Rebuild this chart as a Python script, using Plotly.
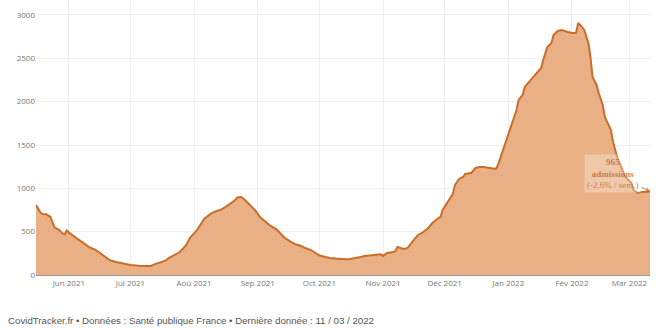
import plotly.graph_objects as go

dates = [
    "2021-05-16", "2021-05-18", "2021-05-19", "2021-05-21", "2021-05-23", "2021-05-24",
    "2021-05-25", "2021-05-27", "2021-05-29", "2021-05-30", "2021-05-31", "2021-06-01",
    "2021-06-03", "2021-06-05", "2021-06-08", "2021-06-11", "2021-06-14", "2021-06-16",
    "2021-06-19", "2021-06-21", "2021-06-24", "2021-06-27", "2021-07-01", "2021-07-06",
    "2021-07-11", "2021-07-13", "2021-07-15", "2021-07-18", "2021-07-20", "2021-07-23",
    "2021-07-25", "2021-07-28", "2021-07-30", "2021-08-02", "2021-08-04", "2021-08-06",
    "2021-08-09", "2021-08-11", "2021-08-14", "2021-08-16", "2021-08-19", "2021-08-21",
    "2021-08-22", "2021-08-24", "2021-08-26", "2021-08-28", "2021-08-31", "2021-09-02",
    "2021-09-05", "2021-09-07", "2021-09-10", "2021-09-12", "2021-09-14", "2021-09-17",
    "2021-09-19", "2021-09-22", "2021-09-24", "2021-09-27", "2021-09-29", "2021-10-01",
    "2021-10-04", "2021-10-06", "2021-10-09", "2021-10-11", "2021-10-14", "2021-10-16",
    "2021-10-19", "2021-10-21", "2021-10-23", "2021-10-26", "2021-10-28", "2021-10-31",
    "2021-11-01", "2021-11-03", "2021-11-06", "2021-11-07", "2021-11-08", "2021-11-09",
    "2021-11-11", "2021-11-13", "2021-11-14", "2021-11-16", "2021-11-18", "2021-11-20",
    "2021-11-23", "2021-11-25", "2021-11-28", "2021-11-29", "2021-11-30", "2021-12-03",
    "2021-12-05", "2021-12-06", "2021-12-08", "2021-12-10", "2021-12-11", "2021-12-14",
    "2021-12-16", "2021-12-18", "2021-12-20", "2021-12-23", "2021-12-26", "2021-12-27",
    "2021-12-29", "2021-12-31", "2022-01-01", "2022-01-03", "2022-01-05", "2022-01-06",
    "2022-01-08", "2022-01-09", "2022-01-12", "2022-01-14", "2022-01-17", "2022-01-18",
    "2022-01-20", "2022-01-22", "2022-01-23", "2022-01-25", "2022-01-27", "2022-01-30",
    "2022-02-01", "2022-02-03", "2022-02-04", "2022-02-05", "2022-02-07", "2022-02-09",
    "2022-02-10", "2022-02-11", "2022-02-13", "2022-02-14", "2022-02-16", "2022-02-17",
    "2022-02-19", "2022-02-20", "2022-02-21", "2022-02-23", "2022-02-25", "2022-02-27",
    "2022-03-02", "2022-03-03", "2022-03-05", "2022-03-07", "2022-03-09", "2022-03-11",
]

admissions = [
    808, 727, 705, 700, 670, 600,
    550, 525, 480, 470, 515, 490,
    450, 420, 370, 320, 290, 255,
    210, 170, 150, 135, 115, 105,
    105, 125, 140, 165, 200, 235,
    265, 340, 430, 505, 575, 650,
    705, 730, 755, 780, 830, 865,
    895, 900, 860, 810, 740, 670,
    615, 570, 530, 485, 430, 385,
    358, 335, 312, 288, 254, 225,
    208, 196, 190, 185, 183, 185,
    195, 208, 220, 230, 235, 240,
    220, 254, 265, 277, 323, 315,
    300, 312, 346, 404, 462, 485,
    542, 600, 658, 670, 750, 865,
    935, 1038, 1108, 1131, 1165, 1177,
    1235, 1246, 1246, 1235, 1223, 1270,
    1408, 1535, 1604, 1754, 1904, 2020,
    2077, 2170, 2250, 2308, 2389, 2481,
    2631, 2677, 2770, 2816, 2827, 2804,
    2793, 2793, 2908, 2885, 2827, 2677,
    2516, 2285, 2193, 2100, 1962, 1823,
    1731, 1673, 1535, 1362, 1246, 1131,
    1062, 981, 946, 958, 958, 965,
]

tick_dates = ["2021-06-01", "2021-07-01", "2021-08-01", "2021-09-01", "2021-10-01",
              "2021-11-01", "2021-12-01", "2022-01-01", "2022-02-01", "2022-03-01"]
tick_labels = ["Jun 2021", "Jul 2021", "Aoû 2021", "Sep 2021", "Oct 2021",
               "Nov 2021", "Déc 2021", "Jan 2022", "Fév 2022", "Mar 2022"]
y_ticks = [0, 500, 1000, 1500, 2000, 2500, 3000]

line_color = "rgb(200,110,40)"
fill_color = "rgb(233,176,134)"

fig = go.Figure()
fig.add_trace(go.Scatter(
    x=dates, y=admissions, mode="lines",
    line=dict(color=line_color, width=2),
    fill="tozeroy", fillcolor=fill_color,
    hoverinfo="skip", showlegend=False,
))

fig.add_annotation(
    x=dates[-1], y=admissions[-1], xref="x", yref="y",
    text="<b>965</b><br><b>admissions</b><br>(-2,6% / sem.)",
    showarrow=True, arrowhead=2, arrowsize=0.8, arrowwidth=1,
    arrowcolor="rgba(200,110,40,0.8)",
    ax=-37, ay=-18,
    font=dict(family="Liberation Serif, serif", size=9, color="rgba(190,110,50,0.85)"),
    bgcolor="rgba(255,255,255,0.3)", borderpad=2,
)

fig.add_annotation(
    x=0.0, y=-0.165, xref="paper", yref="paper", xanchor="left", yanchor="middle",
    xshift=-30,
    text="CovidTracker.fr • Données : Santé publique France • Dernière donnée : 11 / 03 / 2022",
    showarrow=False,
    font=dict(family="Liberation Sans, Arial, sans-serif", size=9.7, color="#555"),
)

fig.update_layout(
    width=660, height=330,
    margin=dict(l=36, r=10, t=0, b=55),
    paper_bgcolor="white", plot_bgcolor="white",
    font=dict(family="Open Sans, sans-serif", size=8, color="#777"),
    xaxis=dict(
        range=["2021-05-16", "2022-03-11"],
        tickvals=tick_dates, ticktext=tick_labels,
        showgrid=True, gridcolor="#eeeeee", gridwidth=1,
        showline=True, linecolor="#999", linewidth=1,
        ticks="", tickfont=dict(size=8, color="#777"),
        zeroline=False,
    ),
    yaxis=dict(
        range=[0, 3173],
        tickvals=y_ticks,
        showgrid=True, gridcolor="#eeeeee", gridwidth=1,
        zeroline=False, showline=False,
        ticks="", tickfont=dict(size=8, color="#777"),
    ),
)

fig.write_html("out.html")
